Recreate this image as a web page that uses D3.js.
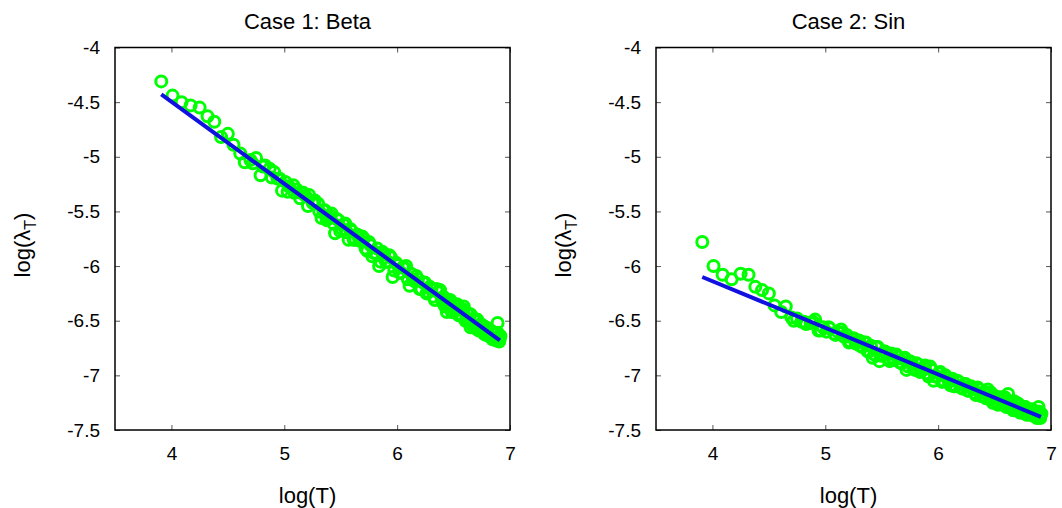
<!DOCTYPE html>
<html>
<head>
<meta charset="utf-8">
<script src="https://cdn.jsdelivr.net/npm/d3@7"></script>
<style>
  body { margin: 0; background: #fff; }
  svg { display: block; font-family: "Liberation Sans", Arial, sans-serif; }
</style>
</head>
<body>
<div id="container"></div>
<script>
// log(T) grid, shared by both cases.
const logT = [3.91, 4.01, 4.09, 4.17, 4.25, 4.32, 4.38, 4.44, 4.50, 4.55, 4.61, 4.65, 4.70, 4.75, 4.79,
  4.83, 4.87, 4.91, 4.94, 4.98, 5.01, 5.04, 5.08, 5.11, 5.14, 5.17, 5.19, 5.22, 5.25, 5.27, 5.30,
  5.33, 5.36, 5.39, 5.42, 5.45, 5.48, 5.51, 5.54, 5.57, 5.60, 5.63, 5.66, 5.69, 5.72, 5.75, 5.78,
  5.81, 5.84, 5.87, 5.90, 5.93, 5.96, 5.99, 6.02, 6.05, 6.08, 6.11, 6.14, 6.17, 6.20, 6.23, 6.26,
  6.29, 6.32, 6.35, 6.38, 6.41, 6.44, 6.47, 6.50, 6.53, 6.56, 6.59, 6.62, 6.65, 6.68, 6.71, 6.74,
  6.77, 6.80, 6.83, 6.86, 6.89, 6.91];

// log(lambda_T), case 1 (Beta).
const caseBeta = [-4.31, -4.44, -4.50, -4.53, -4.55, -4.63, -4.68, -4.82, -4.79, -4.89, -4.97, -5.05, -5.03, -5.01, -5.17,
  -5.08, -5.11, -5.14, -5.20, -5.31, -5.23, -5.27, -5.26, -5.30, -5.38, -5.33, -5.36, -5.35, -5.42, -5.40, -5.43,
  -5.56, -5.49, -5.56, -5.52, -5.70, -5.58, -5.66, -5.61, -5.76, -5.68, -5.76, -5.73, -5.73, -5.84, -5.78, -5.91,
  -5.88, -6.00, -5.87, -5.96, -5.90, -6.10, -5.97, -6.06, -6.01, -6.00, -6.18, -6.12, -6.09, -6.21, -6.15, -6.25,
  -6.19, -6.28, -6.21, -6.22, -6.34, -6.42, -6.33, -6.42, -6.36, -6.44, -6.37, -6.50, -6.56, -6.48, -6.58, -6.53,
  -6.62, -6.57, -6.65, -6.62, -6.52, -6.66];

// log(lambda_T), case 2 (Sin).
const caseSin = [-5.78, -6.00, -6.08, -6.12, -6.07, -6.08, -6.19, -6.22, -6.25, -6.36, -6.42, -6.37, -6.47, -6.48, -6.51,
  -6.53, -6.52, -6.49, -6.59, -6.56, -6.60, -6.57, -6.62, -6.60, -6.58, -6.65, -6.63, -6.69, -6.66, -6.71, -6.68,
  -6.74, -6.70, -6.78, -6.84, -6.74, -6.87, -6.81, -6.79, -6.87, -6.86, -6.81, -6.88, -6.85, -6.95, -6.87, -6.94,
  -6.89, -6.97, -6.93, -6.98, -6.92, -7.05, -7.01, -6.97, -7.05, -7.02, -7.09, -7.10, -7.05, -7.11, -7.08, -7.14,
  -7.10, -7.16, -7.11, -7.19, -7.16, -7.13, -7.22, -7.19, -7.27, -7.22, -7.27, -7.17, -7.29, -7.24, -7.27, -7.34,
  -7.29, -7.35, -7.31, -7.37, -7.29, -7.36];

// Denser part of the sample (large T), second grid.
const logT2 = [4.72, 4.81, 4.89, 4.96, 5.03, 5.09, 5.15, 5.21, 5.26, 5.31,
  5.345, 5.375, 5.405, 5.435, 5.465, 5.495, 5.525, 5.555, 5.585, 5.615, 5.645, 5.675,
  5.705, 5.735, 5.765, 5.795, 5.825, 5.855, 5.885, 5.915, 5.945, 5.975, 6.005, 6.035,
  6.065, 6.095, 6.125, 6.155, 6.185, 6.215, 6.245, 6.275, 6.305, 6.335, 6.365, 6.395,
  6.41, 6.425, 6.44, 6.455, 6.47, 6.485, 6.50, 6.515, 6.53, 6.545, 6.56, 6.575,
  6.59, 6.605, 6.62, 6.635, 6.65, 6.665, 6.68, 6.695, 6.71, 6.725, 6.74, 6.755,
  6.77, 6.785, 6.80, 6.815, 6.83, 6.845, 6.86, 6.875, 6.89, 6.905, 6.915];

const caseBeta2 = [-5.06, -5.09, -5.19, -5.20, -5.32, -5.33, -5.33, -5.45, -5.42, -5.50,
  -5.49, -5.58, -5.54, -5.61, -5.57, -5.68, -5.62, -5.69, -5.66, -5.76, -5.71, -5.77,
  -5.75, -5.86, -5.81, -5.88, -5.84, -5.96, -5.89, -5.96, -5.92, -6.04, -5.99, -6.06,
  -6.02, -6.12, -6.07, -6.14, -6.12, -6.21, -6.15, -6.24, -6.21, -6.31, -6.24, -6.31,
  -6.28, -6.37, -6.32, -6.37, -6.31, -6.42, -6.35, -6.40, -6.35, -6.45, -6.40, -6.46,
  -6.40, -6.50, -6.43, -6.49, -6.44, -6.54, -6.49, -6.55, -6.49, -6.59, -6.54, -6.59,
  -6.55, -6.63, -6.58, -6.64, -6.59, -6.67, -6.62, -6.68, -6.61, -6.69, -6.64];

const caseSin2 = [-6.50, -6.51, -6.51, -6.59, -6.56, -6.63, -6.61, -6.70, -6.67, -6.73,
  -6.70, -6.78, -6.73, -6.81, -6.74, -6.82, -6.78, -6.85, -6.80, -6.86, -6.83, -6.89,
  -6.84, -6.92, -6.88, -6.95, -6.90, -6.96, -6.91, -7.01, -6.95, -7.01, -6.98, -7.06,
  -7.00, -7.06, -7.03, -7.10, -7.06, -7.12, -7.08, -7.14, -7.11, -7.18, -7.13, -7.19,
  -7.15, -7.21, -7.17, -7.22, -7.16, -7.25, -7.20, -7.24, -7.20, -7.26, -7.20, -7.26,
  -7.20, -7.29, -7.24, -7.29, -7.24, -7.32, -7.26, -7.31, -7.26, -7.34, -7.30, -7.34,
  -7.29, -7.36, -7.31, -7.36, -7.32, -7.37, -7.33, -7.39, -7.33, -7.39, -7.35];

// Fitted lines (end points).
const fitT = [3.91, 6.91];
const fitBeta = [-4.43, -6.68];
const fitSin = [-6.10, -7.38];

const titles = ['Case 1: Beta', 'Case 2: Sin'];
const xTicks = [4, 5, 6, 7];
const yTicks = [-4, -4.5, -5, -5.5, -6, -6.5, -7, -7.5];

const W = 1062, H = 508;
const plotW = 395, plotH = 382.5, plotTop = 47.5;
const lefts = [115, 656];

const svg = d3.select('#container').append('svg')
  .attr('width', W).attr('height', H);

const panels = [
  { title: titles[0], y: caseBeta, y2: caseBeta2, fit: fitBeta },
  { title: titles[1], y: caseSin, y2: caseSin2, fit: fitSin }
];

panels.forEach((p, i) => {
  const g = svg.append('g').attr('transform', `translate(${lefts[i]} ${plotTop})`);

  const x = d3.scaleLinear().domain([3.5, 7]).range([0, plotW]);
  const y = d3.scaleLinear().domain([-7.5, -4]).range([plotH, 0]);

  const pts = logT.map((t, k) => [t, p.y[k]])
    .concat(logT2.map((t, k) => [t, p.y2[k]]));

  // Points.
  g.append('g')
    .selectAll('circle')
    .data(pts)
    .enter()
    .append('circle')
    .attr('cx', d => x(d[0]))
    .attr('cy', d => y(d[1]))
    .attr('r', 5.5)
    .attr('fill', 'none')
    .attr('stroke', '#00ff00')
    .attr('stroke-width', 3);

  // Fit line.
  const line = d3.line().x(d => x(d[0])).y(d => y(d[1]));
  g.append('path')
    .datum(fitT.map((t, k) => [t, p.fit[k]]))
    .attr('d', line)
    .attr('fill', 'none')
    .attr('stroke', '#1010e0')
    .attr('stroke-width', 4);

  // Axes, ticks pointing inward, mirrored.
  const fmt = d => String(d);
  const styleAxis = a => {
    a.select('.domain').remove();
    a.selectAll('line').attr('stroke', '#555').attr('stroke-width', 1);
    a.selectAll('text').attr('fill', '#000').attr('font-size', 19)
      .attr('font-family', '"Liberation Sans", Arial, sans-serif');
  };

  g.append('g')
    .attr('transform', `translate(0 ${plotH})`)
    .call(d3.axisBottom(x).tickValues(xTicks).tickFormat(fmt).tickSize(-5).tickPadding(17))
    .call(styleAxis);
  g.append('g')
    .call(d3.axisTop(x).tickValues(xTicks).tickFormat('').tickSize(-5))
    .call(styleAxis);
  g.append('g')
    .call(d3.axisLeft(y).tickValues(yTicks).tickFormat(fmt).tickSize(-5).tickPadding(15))
    .call(styleAxis);
  g.append('g')
    .attr('transform', `translate(${plotW} 0)`)
    .call(d3.axisRight(y).tickValues(yTicks).tickFormat('').tickSize(-5))
    .call(styleAxis);

  // Frame.
  g.append('rect')
    .attr('width', plotW).attr('height', plotH)
    .attr('fill', 'none').attr('stroke', '#000').attr('stroke-width', 1.5);

  // Title.
  g.append('text')
    .attr('x', plotW / 2 - 5).attr('y', 29 - plotTop)
    .attr('text-anchor', 'middle')
    .attr('font-size', 22)
    .text(p.title);

  // X label.
  g.append('text')
    .attr('x', plotW / 2 - 5).attr('y', 503 - plotTop)
    .attr('text-anchor', 'middle')
    .attr('font-size', 22)
    .text('log(T)');

  // Y label.
  const yl = g.append('text')
    .attr('transform', `translate(-85 ${245 - plotTop}) rotate(-90)`)
    .attr('text-anchor', 'middle')
    .attr('font-size', 22);
  yl.append('tspan').text('log(λ');
  yl.append('tspan').attr('font-size', 16).attr('dy', 6).text('T');
  yl.append('tspan').attr('dy', -6).text(')');
});
</script>
</body>
</html>
